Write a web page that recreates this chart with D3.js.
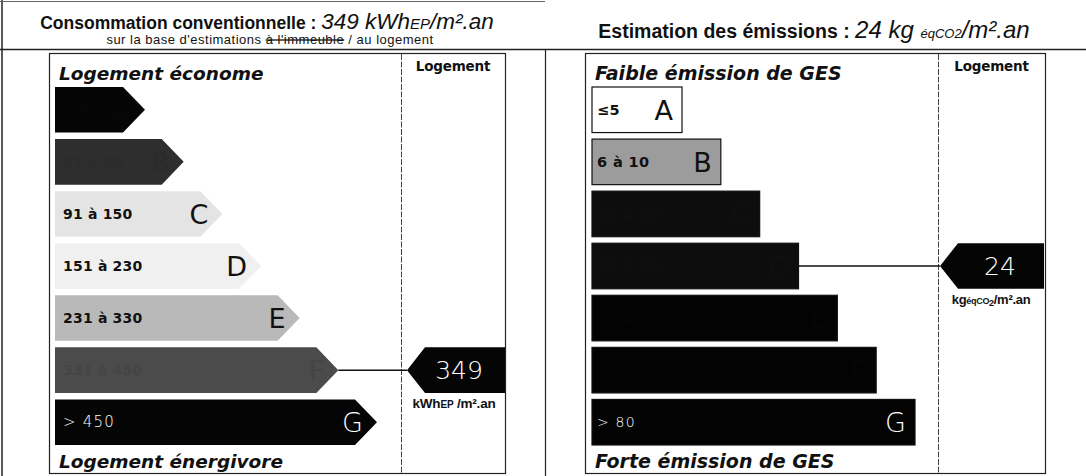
<!DOCTYPE html>
<html><head><meta charset="utf-8">
<script src="https://cdn.jsdelivr.net/npm/d3@7"></script>
<style>body{margin:0;background:#fff}svg{display:block}</style>
</head><body><svg id="c" width="1086" height="476"></svg>
<script>
// ---- data ----
const energyClasses = ["A","B","C","D","E","F","G"];
const energyRanges  = ["≤ 50","51 à 90","91 à 150","151 à 230","231 à 330","331 à 450","> 450"];
const energyThresholds = [50,90,150,230,330,450];
const energyValue = 349;
const gesClasses = ["A","B","C","D","E","F","G"];
const gesRanges  = ["≤5","6 à 10","11 à 20","21 à 35","36 à 55","56 à 80","> 80"];
const gesThresholds = [5,10,20,35,55,80];
const gesValue = 24;

const energyFill = ["#050505","#2e2e2e","#e4e4e4","#f0f0f0","#b9b9b9","#4b4b4b","#050505"];
const energyTextFill = ["#070707","#2b2b2b","#111","#111","#111","#454545","#fff"];
const gesFill = ["#ffffff","#9c9c9c","#0d0d0d","#0d0d0d","#030303","#030303","#030303"];
const gesTextFill = ["#111","#111","#0f0f0f","#0f0f0f","#050505","#050505","#fff"];

const svg = d3.select("#c");
const sans = "'Liberation Sans', Arial, sans-serif";
const verd = "'DejaVu Sans', Verdana, sans-serif";

// ---- frame ----
const frame = svg.append("g").attr("stroke","#222").attr("fill","none");
frame.append("line").attr("x1",2).attr("x2",2).attr("y1",0).attr("y2",476).attr("stroke-width",1.5);
frame.append("line").attr("x1",0).attr("x2",545).attr("y1",1.5).attr("y2",1.5).attr("stroke","#666");
frame.append("line").attr("x1",0).attr("x2",1086).attr("y1",49.5).attr("y2",49.5).attr("stroke-width",1.5);
frame.append("line").attr("x1",545.5).attr("x2",545.5).attr("y1",49).attr("y2",476).attr("stroke-width",1.2);

// ---- headers ----
const h1 = svg.append("text").attr("x",267).attr("y",29).attr("text-anchor","middle").attr("font-family",sans).attr("fill","#111");
h1.append("tspan").attr("font-weight","bold").attr("font-size",17.5).text("Consommation conventionnelle : ");
h1.append("tspan").attr("font-style","italic").attr("font-size",22.5).text(energyValue + " kWh");
h1.append("tspan").attr("font-style","italic").attr("font-size",15).text("EP");
h1.append("tspan").attr("font-style","italic").attr("font-size",22.5).text("/m².an");

const h2 = svg.append("text").attr("x",270).attr("y",44).attr("text-anchor","middle").attr("font-family",sans).attr("font-size",13).attr("letter-spacing",0.5).attr("fill","#111");
h2.append("tspan").text("sur la base d'estimations ");
h2.append("tspan").attr("text-decoration","line-through").text("à l'immeuble");
h2.append("tspan").text(" / au logement");

const h3 = svg.append("text").attr("x",814).attr("y",38).attr("text-anchor","middle").attr("font-family",sans).attr("fill","#111");
h3.append("tspan").attr("font-weight","bold").attr("font-size",19.5).text("Estimation des émissions : ");
h3.append("tspan").attr("font-style","italic").attr("font-size",24).text(gesValue + " kg ");
h3.append("tspan").attr("font-style","italic").attr("font-size",13).text("éqCO2");
h3.append("tspan").attr("font-style","italic").attr("font-size",24).text("/m².an");

// ---- shared scale ----
const y = d3.scaleBand().domain(d3.range(7)).range([87,445]).paddingInner(0.125).paddingOuter(0);
const bh = y.bandwidth();

function panel(x0, x1, xDiv, topTitle, bottomTitle, titleSize){
  const g = svg.append("g");
  g.append("rect").attr("x",x0+0.5).attr("y",53.5).attr("width",x1-x0).attr("height",420).attr("fill","none").attr("stroke","#222").attr("stroke-width",1.2);
  g.append("line").attr("x1",xDiv+0.5).attr("x2",xDiv+0.5).attr("y1",54).attr("y2",473).attr("stroke","#444").attr("stroke-dasharray","6,1.5");
  g.append("text").attr("x",(xDiv+x1)/2).attr("y",71).attr("text-anchor","middle").attr("font-family",verd).attr("font-weight","bold").attr("font-size",13.5).attr("letter-spacing",-0.2).attr("fill","#111").text("Logement");
  g.append("text").attr("x",x0+10).attr("y",80).attr("font-family",verd).attr("font-weight","bold").attr("font-style","italic").attr("font-size",titleSize).attr("fill","#111").text(topTitle);
  g.append("text").attr("x",x0+10).attr("y",468).attr("font-family",verd).attr("font-weight","bold").attr("font-style","italic").attr("font-size",titleSize).attr("fill","#111").text(bottomTitle);
  return g;
}

// ---- energy panel ----
const gE = panel(49, 505, 401, "Logement économe", "Logement énergivore", 18.5);
const xE = d3.scaleLinear().domain([0,6]).range([145,377]);
const ex0 = 55, tipLen = 22;
gE.selectAll("path.bar").data(energyClasses).join("path").attr("class","bar")
  .attr("d",(d,i)=>{const t=xE(i), y0=y(i), y1=y(i)+bh; return `M${ex0},${y0}H${t-tipLen}L${t},${y0+bh/2}L${t-tipLen},${y1}H${ex0}Z`;})
  .attr("fill",(d,i)=>energyFill[i]);
gE.selectAll("text.rng").data(energyRanges).join("text").attr("class","rng")
  .attr("x",63).attr("y",(d,i)=>y(i)+bh/2+5)
  .attr("font-family",verd).attr("font-size",(d,i)=>i===6?15:14).attr("font-weight",(d,i)=>i===6?300:"bold")
  .attr("letter-spacing",(d,i)=>i===6?1.2:0.2)
  .attr("fill",(d,i)=>energyTextFill[i]).text(d=>d);
gE.selectAll("text.let").data(energyClasses).join("text").attr("class","let")
  .attr("x",(d,i)=>xE(i)-14).attr("y",(d,i)=>y(i)+bh/2+10).attr("text-anchor","end")
  .attr("font-family",verd).attr("font-size",27).attr("font-weight",(d,i)=>i===6?200:"normal")
  .attr("fill",(d,i)=>energyTextFill[i]).text(d=>d);

const eIdx = d3.bisectLeft(energyThresholds, energyValue);
const eyc = y(eIdx)+bh/2;
gE.append("line").attr("x1",xE(eIdx)).attr("x2",407).attr("y1",eyc).attr("y2",eyc).attr("stroke","#111").attr("stroke-width",1.5);
gE.append("path").attr("d",`M407,${eyc}L425,${y(eIdx)}H505V${y(eIdx)+bh}H425Z`).attr("fill","#050505");
gE.append("text").attr("x",459).attr("y",eyc+9).attr("text-anchor","middle").attr("font-family",verd).attr("font-weight",200).attr("font-size",25).attr("fill","#fff").text(energyValue);
const uE = gE.append("text").attr("x",454).attr("y",y(eIdx)+bh+15).attr("text-anchor","middle").attr("font-family",sans).attr("font-weight","bold").attr("font-size",13.5).attr("letter-spacing",-0.2).attr("fill","#111");
uE.append("tspan").text("kWh");
uE.append("tspan").attr("font-size",10).text("EP");
uE.append("tspan").text(" /m².an");

// ---- GES panel ----
const gG = panel(585, 1045, 938, "Faible émission de GES", "Forte émission de GES", 19);
const xG = d3.scaleLinear().domain([0,6]).range([682,915]);
const gx0 = 592;
gG.selectAll("rect.bar").data(gesClasses).join("rect").attr("class","bar")
  .attr("x",gx0).attr("y",(d,i)=>y(i)).attr("width",(d,i)=>xG(i)-gx0).attr("height",bh)
  .attr("fill",(d,i)=>gesFill[i]).attr("stroke","#111").attr("stroke-width",1.2);
gG.selectAll("text.rng").data(gesRanges).join("text").attr("class","rng")
  .attr("x",597).attr("y",(d,i)=>y(i)+bh/2+5)
  .attr("font-family",verd).attr("font-size",(d,i)=>i===6?14:14.5).attr("font-weight",(d,i)=>i===6?300:"bold")
  .attr("letter-spacing",(d,i)=>i===6?1.2:0.4)
  .attr("fill",(d,i)=>gesTextFill[i]).text(d=>d);
gG.selectAll("text.let").data(gesClasses).join("text").attr("class","let")
  .attr("x",(d,i)=>xG(i)-9).attr("y",(d,i)=>y(i)+bh/2+10).attr("text-anchor","end")
  .attr("font-family",verd).attr("font-size",27).attr("font-weight",(d,i)=>i===6?200:"normal")
  .attr("fill",(d,i)=>gesTextFill[i]).text(d=>d);

const gIdx = d3.bisectLeft(gesThresholds, gesValue);
const gyc = y(gIdx)+bh/2;
gG.append("line").attr("x1",xG(gIdx)).attr("x2",940).attr("y1",gyc).attr("y2",gyc).attr("stroke","#111").attr("stroke-width",1.5);
gG.append("path").attr("d",`M940,${gyc}L958,${y(gIdx)}H1044V${y(gIdx)+bh}H958Z`).attr("fill","#050505");
gG.append("text").attr("x",1000).attr("y",gyc+9).attr("text-anchor","middle").attr("font-family",verd).attr("font-weight",200).attr("font-size",25).attr("fill","#fff").text(gesValue);
const uG = gG.append("text").attr("x",991).attr("y",y(gIdx)+bh+15).attr("text-anchor","middle").attr("font-family",sans).attr("font-weight","bold").attr("font-size",13).attr("letter-spacing",-0.3).attr("fill","#111");
uG.append("tspan").text("kg");
uG.append("tspan").attr("font-size",9).text("éqCO");
uG.append("tspan").attr("font-size",9).attr("dy",2).text("2");
uG.append("tspan").attr("dy",-2).text("/m².an");
</script></body></html>
